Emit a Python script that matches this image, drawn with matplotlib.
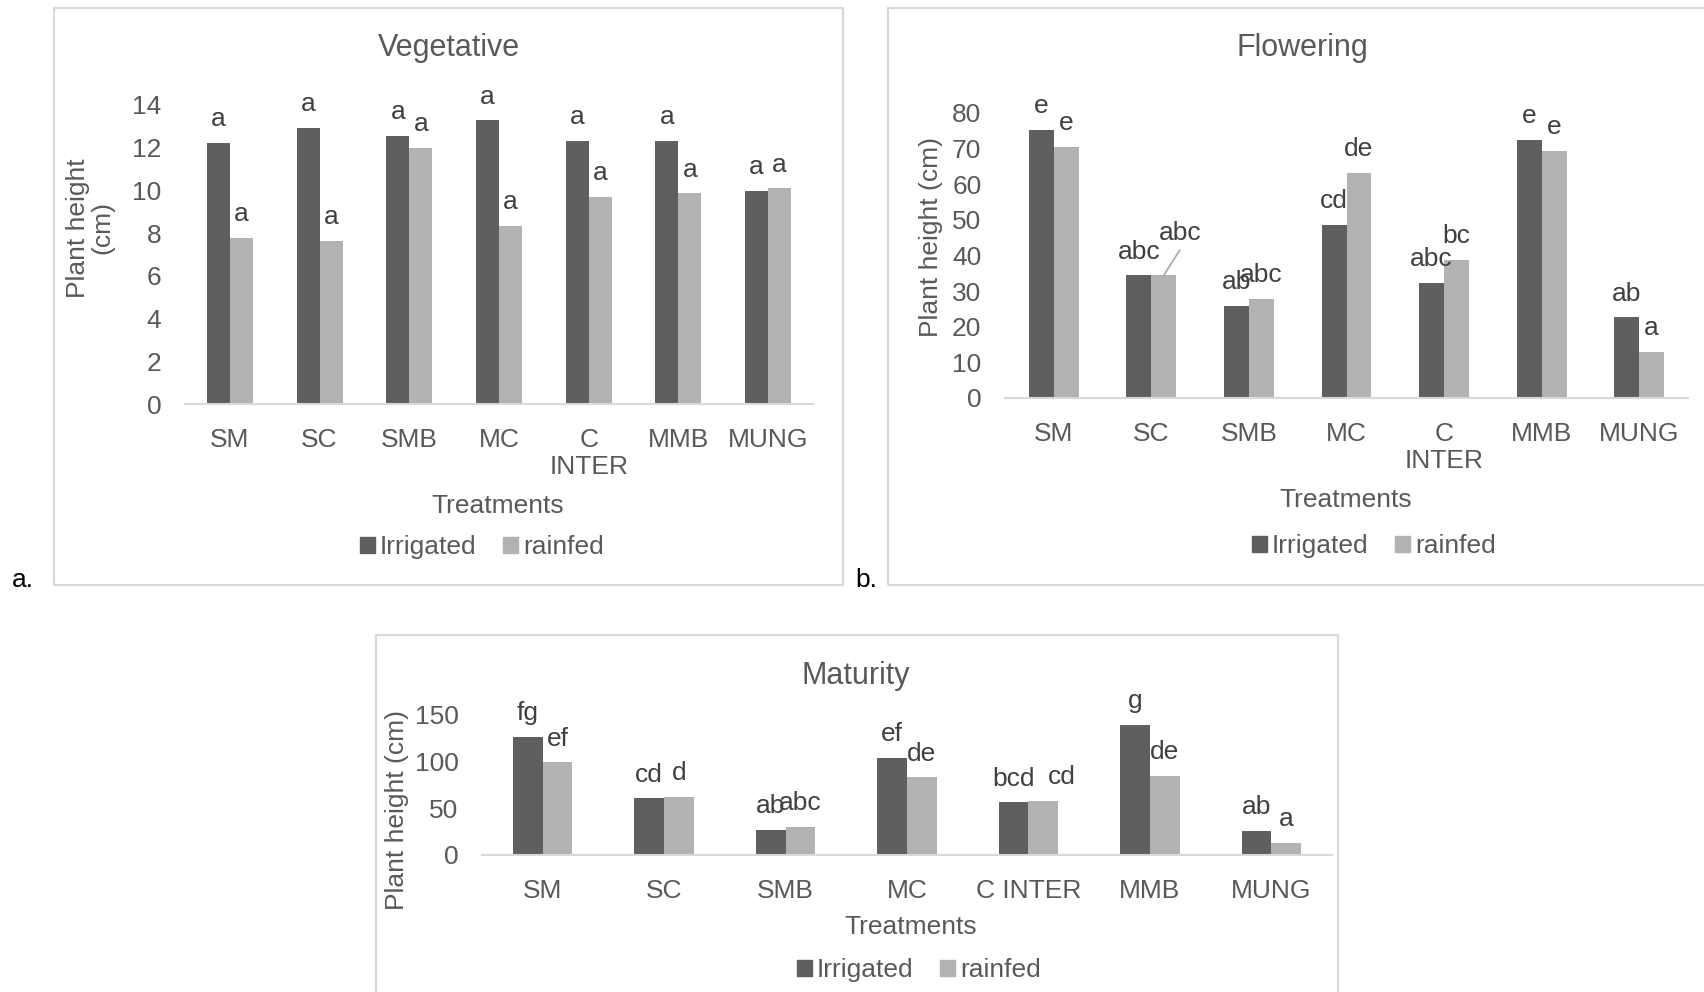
import matplotlib
matplotlib.use("Agg")
import matplotlib.pyplot as plt
from matplotlib.patches import Rectangle, Patch

plt.rcParams['font.family'] = ['Liberation Sans', 'DejaVu Sans']

# -------------------------------
# Data
# -------------------------------
treatments = ["SM", "SC", "SMB", "MC", "C\nINTER", "MMB", "MUNG"]
treatments_one_line = ["SM", "SC", "SMB", "MC", "C INTER", "MMB", "MUNG"]

veg_irrigated = [12.24, 12.94, 12.57, 13.29, 12.32, 12.31, 9.98]
veg_rainfed = [7.77, 7.64, 12.0, 8.35, 9.69, 9.87, 10.1]
veg_irr_letters = ["a", "a", "a", "a", "a", "a", "a"]
veg_rain_letters = ["a", "a", "a", "a", "a", "a", "a"]

flo_irrigated = [75.3, 34.4, 25.9, 48.6, 32.3, 72.4, 22.7]
flo_rainfed = [70.5, 34.5, 27.9, 63.2, 38.8, 69.4, 12.9]
flo_irr_letters = ["e", "abc", "ab", "cd", "abc", "e", "ab"]
flo_rain_letters = ["e", "abc", "abc", "de", "bc", "e", "a"]

mat_irrigated = [126.8, 60.7, 27.1, 103.9, 56.4, 139.6, 26.1]
mat_rainfed = [99.3, 62.5, 30.0, 83.2, 57.9, 84.6, 13.2]
mat_irr_letters = ["fg", "cd", "ab", "ef", "bcd", "g", "ab"]
mat_rain_letters = ["ef", "d", "abc", "de", "cd", "de", "a"]

DARK = "#5f5f5f"
LIGHT = "#b2b2b2"
TEXT = "#595959"
LETTER = "#404040"
BORDER = "#d9d9d9"

W, H = 1704, 992
fig = plt.figure(figsize=(W / 100, H / 100), dpi=100)


def fx(x):
    return x / W


def fy(y):
    return 1 - y / H


def make_axes(left, right, top, bottom):
    return fig.add_axes([fx(left), fy(bottom), fx(right) - fx(left), fy(top) - fy(bottom)])


def box(left, top, right, bottom):
    fig.patches.append(Rectangle((fx(left), fy(bottom)), fx(right) - fx(left), fy(top) - fy(bottom),
                                 transform=fig.transFigure, fill=False, edgecolor=BORDER, lw=1.5))


def letter(ax, text, x, y, dx=0, dy=17):
    ax.annotate(text, (x, y), xytext=(dx, dy), textcoords="offset points", ha="center", va="center",
                fontsize=19, color=LETTER, annotation_clip=False)


def draw_panel(ax, irr, rain, irr_letters, rain_letters, labels, ymax, ystep, width,
               leader=None, nudge=None):
    n = len(irr)
    xs = range(n)
    ax.bar([x - width / 2 for x in xs], irr, width, color=DARK)
    ax.bar([x + width / 2 for x in xs], rain, width, color=LIGHT)
    for i in xs:
        letter(ax, irr_letters[i], i - width / 2, irr[i])
        if leader is not None and i == leader:
            # label pulled up and right, joined to its bar with a leader line
            letter(ax, rain_letters[i], i + width / 2, rain[i], dx=11.5, dy=30)
            ax.annotate("", (i + width / 2, rain[i]), xytext=(11.5, 18), textcoords="offset points",
                        arrowprops=dict(arrowstyle="-", color="#a6a6a6", lw=1.2, shrinkA=0, shrinkB=0),
                        annotation_clip=False)
        elif nudge is not None and i == nudge:
            letter(ax, rain_letters[i], i + width / 2, rain[i], dx=13)
        else:
            letter(ax, rain_letters[i], i + width / 2, rain[i])
    ax.set_xlim(-0.5, n - 0.5)
    ax.set_ylim(0, ymax)
    ax.set_yticks(range(0, ymax + 1, ystep))
    ax.set_xticks(list(xs))
    ax.set_xticklabels(labels, linespacing=1.2)
    ax.tick_params(axis="both", length=0, labelsize=19, labelcolor=TEXT)
    ax.tick_params(axis="y", pad=17)
    ax.tick_params(axis="x", pad=17)
    for side in ["top", "right", "left"]:
        ax.spines[side].set_visible(False)
    ax.spines["bottom"].set_color(BORDER)
    ax.spines["bottom"].set_linewidth(1.5)
    ax.patch.set_visible(False)


def legend_at(x, y):
    handles = [Patch(color=DARK, label="Irrigated"), Patch(color=LIGHT, label="rainfed")]
    fig.legend(handles=handles, loc="center", bbox_to_anchor=(fx(x), fy(y)), ncol=2, frameon=False,
               fontsize=19, labelcolor=TEXT, handlelength=0.55, handleheight=0.55, handletextpad=0.2,
               columnspacing=1.0)


# -------------------------------
# a. Vegetative
# -------------------------------
box(54, 8, 843, 585)
ax_a = make_axes(185, 813, 105, 404)
draw_panel(ax_a, veg_irrigated, veg_rainfed, veg_irr_letters, veg_rain_letters, treatments, 14, 2, 0.256)
fig.text(fx(449), fy(48), "Vegetative", fontsize=22, color=TEXT, ha="center", va="center")
fig.text(fx(90), fy(228), "Plant height\n(cm)", fontsize=19, color=TEXT, ha="center", va="center",
         rotation=90, linespacing=1.0)
fig.text(fx(498), fy(506), "Treatments", fontsize=19, color=TEXT, ha="center", va="center")
legend_at(482, 547)
fig.text(fx(23), fy(580), "a.", fontsize=19, color="black", ha="center", va="center")

# -------------------------------
# b. Flowering
# -------------------------------
box(888, 8, 1712, 585)
ax_b = make_axes(1005, 1688, 113, 398)
draw_panel(ax_b, flo_irrigated, flo_rainfed, flo_irr_letters, flo_rain_letters, treatments, 80, 10, 0.256,
           leader=1)
fig.text(fx(1302), fy(48), "Flowering", fontsize=22, color=TEXT, ha="center", va="center")
fig.text(fx(931), fy(237), "Plant height (cm)", fontsize=19, color=TEXT, ha="center", va="center",
         rotation=90)
fig.text(fx(1346), fy(500), "Treatments", fontsize=19, color=TEXT, ha="center", va="center")
legend_at(1374, 546)
fig.text(fx(866), fy(580), "b.", fontsize=19, color="black", ha="center", va="center")

# -------------------------------
# c. Maturity
# -------------------------------
box(376, 635, 1338, 1000)
ax_c = make_axes(482, 1332, 715, 855)
draw_panel(ax_c, mat_irrigated, mat_rainfed, mat_irr_letters, mat_rain_letters, treatments_one_line,
           150, 50, 0.245, nudge=4)
fig.text(fx(856), fy(676), "Maturity", fontsize=22, color=TEXT, ha="center", va="center")
fig.text(fx(397), fy(810), "Plant height (cm)", fontsize=19, color=TEXT, ha="center", va="center",
         rotation=90)
fig.text(fx(911), fy(927), "Treatments", fontsize=19, color=TEXT, ha="center", va="center")
legend_at(919, 970)

fig.savefig("out.png", dpi=100, facecolor="white")
